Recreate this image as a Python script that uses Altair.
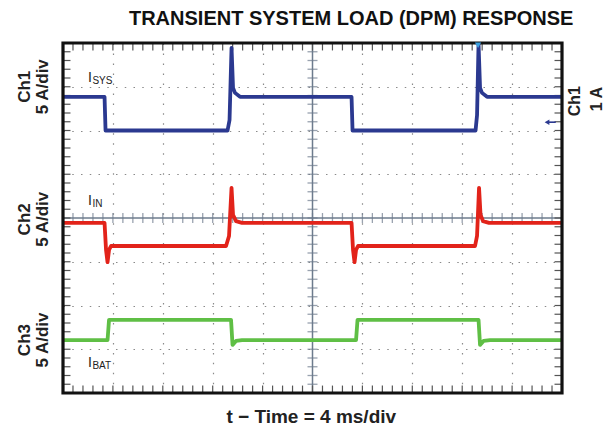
import altair as alt
import numpy as np
import pandas as pd

# ---- trace data (time in ms, value in vertical divisions from bottom) ----
ch1_t = [0, 3.33, 3.41, 13.19, 13.35, 13.51, 13.63, 13.79, 14.19, 23.13, 23.21, 33.07, 33.19, 33.31, 33.43, 33.59, 33.99, 40]
ch1_v = [6.77, 6.77, 6.0, 6.0, 6.24, 7.89, 6.97, 6.86, 6.77, 6.77, 6.0, 6.0, 6.35, 7.98, 6.97, 6.86, 6.77, 6.77]

ch2_t = [0, 3.33, 3.45, 3.57, 3.69, 3.85, 13.07, 13.31, 13.51, 13.63, 13.87, 14.35, 23.13, 23.25, 23.37, 23.49, 23.65,
         33.03, 33.19, 33.35, 33.47, 33.67, 34.15, 40]
ch2_v = [3.89, 3.89, 3.27, 2.99, 3.27, 3.36, 3.36, 3.59, 4.69, 4.07, 3.93, 3.89, 3.89, 3.27, 2.99, 3.27, 3.36,
         3.36, 3.59, 4.69, 4.07, 3.93, 3.89, 3.89]

ch3_t = [0, 3.57, 3.69, 13.47, 13.59, 13.87, 14.35, 23.49, 23.61, 33.31, 33.43, 33.71, 34.23, 40]
ch3_v = [1.21, 1.21, 1.67, 1.67, 1.10, 1.19, 1.21, 1.21, 1.67, 1.67, 1.10, 1.19, 1.21, 1.21]

# ---- graticule ----
x_major = [4, 8, 12, 16, 24, 28, 32, 36]
y_major = [1, 2, 3, 5, 6, 7]
x_minor = list(np.round(np.arange(0.8, 39.3, 0.8), 3))
y_minor = list(np.round(np.arange(0.2, 7.9, 0.2), 3))
TICK_X = 0.6    # border tick length along time axis (ms)
TICK_Y = 0.17   # border tick length along vertical axis (div)

BLUE = "#2b3990"
RED = "#e2231a"
GREEN = "#5fbf45"
AXC = "#6d7b8d"
TK = "#555555"
FONT = "Liberation Sans"

xs = alt.Scale(domain=[0, 40], nice=False, zero=False)
ys = alt.Scale(domain=[0, 8], nice=False, zero=False)
xax = alt.Axis(values=x_major, grid=True, gridDash=[1.5, 8.48], gridColor="#8a8a8a", gridWidth=1.2,
               labels=False, ticks=False, domain=False, title=None)
yax = alt.Axis(values=y_major, grid=True, gridDash=[1.5, 7.25], gridColor="#8a8a8a", gridWidth=1.2,
               labels=False, ticks=False, domain=False, title=None)
X = alt.X("t:Q", scale=xs, axis=xax)
Y = alt.Y("v:Q", scale=ys, axis=yax)


def df(t, v, **kw):
    d = pd.DataFrame({"t": t, "v": v})
    d["i"] = range(len(d))
    for k, val in kw.items():
        d[k] = val
    return d


# plot frame drawn as a thick black outline
frame = alt.Chart(df([0, 40, 40, 0, 0], [0, 0, 8, 8, 0])).mark_line(
    color="#111", strokeWidth=3.2, strokeCap="square").encode(x=X, y=Y, order="i:Q")

# center axes
center_h = alt.Chart(df([0, 40], [4, 4])).mark_line(color=AXC, strokeWidth=1.5).encode(x=X, y=Y, order="i:Q")
center_v = alt.Chart(df([20, 20], [0, 8])).mark_line(color=AXC, strokeWidth=1.5).encode(x=X, y=Y, order="i:Q")

ticks_c_x = alt.Chart(df(x_minor, [4] * len(x_minor))).mark_tick(
    orient="vertical", size=10, thickness=1.3, color=AXC).encode(x=X, y=Y)
ticks_c_y = alt.Chart(df([20] * len(y_minor), y_minor)).mark_tick(
    orient="horizontal", size=10, thickness=1.3, color=AXC).encode(x=X, y=Y)

# border ticks as short rules pointing inward
nx, ny = len(x_minor), len(y_minor)
tb = df(x_minor * 2, [8] * nx + [0] * nx, v2=[8 - TICK_Y] * nx + [TICK_Y] * nx)
lr = df([0] * ny + [40] * ny, y_minor * 2, t2=[TICK_X] * ny + [40 - TICK_X] * ny)
ticks_tb = alt.Chart(tb).mark_rule(color=TK, strokeWidth=1.2).encode(x=X, y=Y, y2="v2:Q")
ticks_lr = alt.Chart(lr).mark_rule(color=TK, strokeWidth=1.2).encode(x=X, x2="t2:Q", y=Y)


def trace(t, v, c):
    return alt.Chart(df(t, v)).mark_line(color=c, strokeWidth=3.8, strokeJoin="round", clip=True).encode(
        x=X, y=Y, order="i:Q")


tr1 = trace(ch1_t, ch1_v, BLUE)
tr2 = trace(ch2_t, ch2_v, RED)
tr3 = trace(ch3_t, ch3_v, GREEN)

# ---- annotations ----
title = alt.Chart(df([23.1], [8.41], txt="TRANSIENT SYSTEM LOAD (DPM) RESPONSE")).mark_text(
    font=FONT, fontSize=20, fontWeight="bold", align="center", baseline="alphabetic", color="#111").encode(
    x=X, y=Y, text="txt:N")
xlabel = alt.Chart(df([19.9], [-0.686], txt="t − Time = 4 ms/div")).mark_text(
    font=FONT, fontSize=19, fontWeight="bold", align="center", baseline="alphabetic", color="#222").encode(
    x=X, y=Y, text="txt:N")

left_t = [-3.05, -1.60, -3.05, -1.60, -3.05, -1.60]
left_v = [7.0, 7.0, 3.97, 3.97, 1.21, 1.21]
left_txt = ["Ch1", "5 A/div", "Ch2", "5 A/div", "Ch3", "5 A/div"]
left = alt.Chart(df(left_t, left_v, txt=left_txt)).mark_text(
    font=FONT, fontSize=17, fontWeight="bold", align="center", baseline="middle", angle=270, color="#222").encode(
    x=X, y=Y, text="txt:N")

right = alt.Chart(df([41.04, 42.81], [6.67, 6.72], txt=["Ch1", "1 A"])).mark_text(
    font=FONT, fontSize=16, fontWeight="bold", align="center", baseline="middle", angle=270, color="#222").encode(
    x=X, y=Y, text="txt:N")

# channel-1 ground marker (small left arrow at the right edge)
arrow_line = alt.Chart(df([38.85, 39.5], [6.19, 6.19])).mark_line(color=BLUE, strokeWidth=1.6).encode(
    x=X, y=Y, order="i:Q")
arrow_head = alt.Chart(df([38.8], [6.19])).mark_point(
    shape="triangle-left", filled=True, size=30, color=BLUE, opacity=1).encode(x=X, y=Y)
trig = alt.Chart(df([33.27], [7.95])).mark_point(
    shape="triangle-down", filled=True, size=40, color="#3aa0e0", opacity=1).encode(x=X, y=Y)

i_main = alt.Chart(df([2.0, 2.0, 2.0], [7.11, 4.30, 0.594], txt=["I", "I", "I"])).mark_text(
    font=FONT, fontSize=14, align="left", baseline="alphabetic", color="#222").encode(x=X, y=Y, text="txt:N")
i_sub = alt.Chart(df([2.36, 2.36, 2.36], [7.06, 4.25, 0.549], txt=["SYS", "IN", "BAT"])).mark_text(
    font=FONT, fontSize=10, align="left", baseline="alphabetic", color="#222").encode(x=X, y=Y, text="txt:N")

chart = alt.layer(
    center_h, center_v, ticks_c_x, ticks_c_y, ticks_tb, ticks_lr,
    tr1, tr2, tr3, frame, trig, arrow_line, arrow_head,
    title, xlabel, left, right, i_main, i_sub,
).properties(
    width=499, height=350,
    autosize=alt.AutoSizeParams(type="none"),
    padding={"left": 55, "top": 35, "right": 45, "bottom": 33},
).configure_view(
    stroke=None
).configure(background="white")

chart.save("out.html", embed_options={"renderer": "svg", "actions": False})
